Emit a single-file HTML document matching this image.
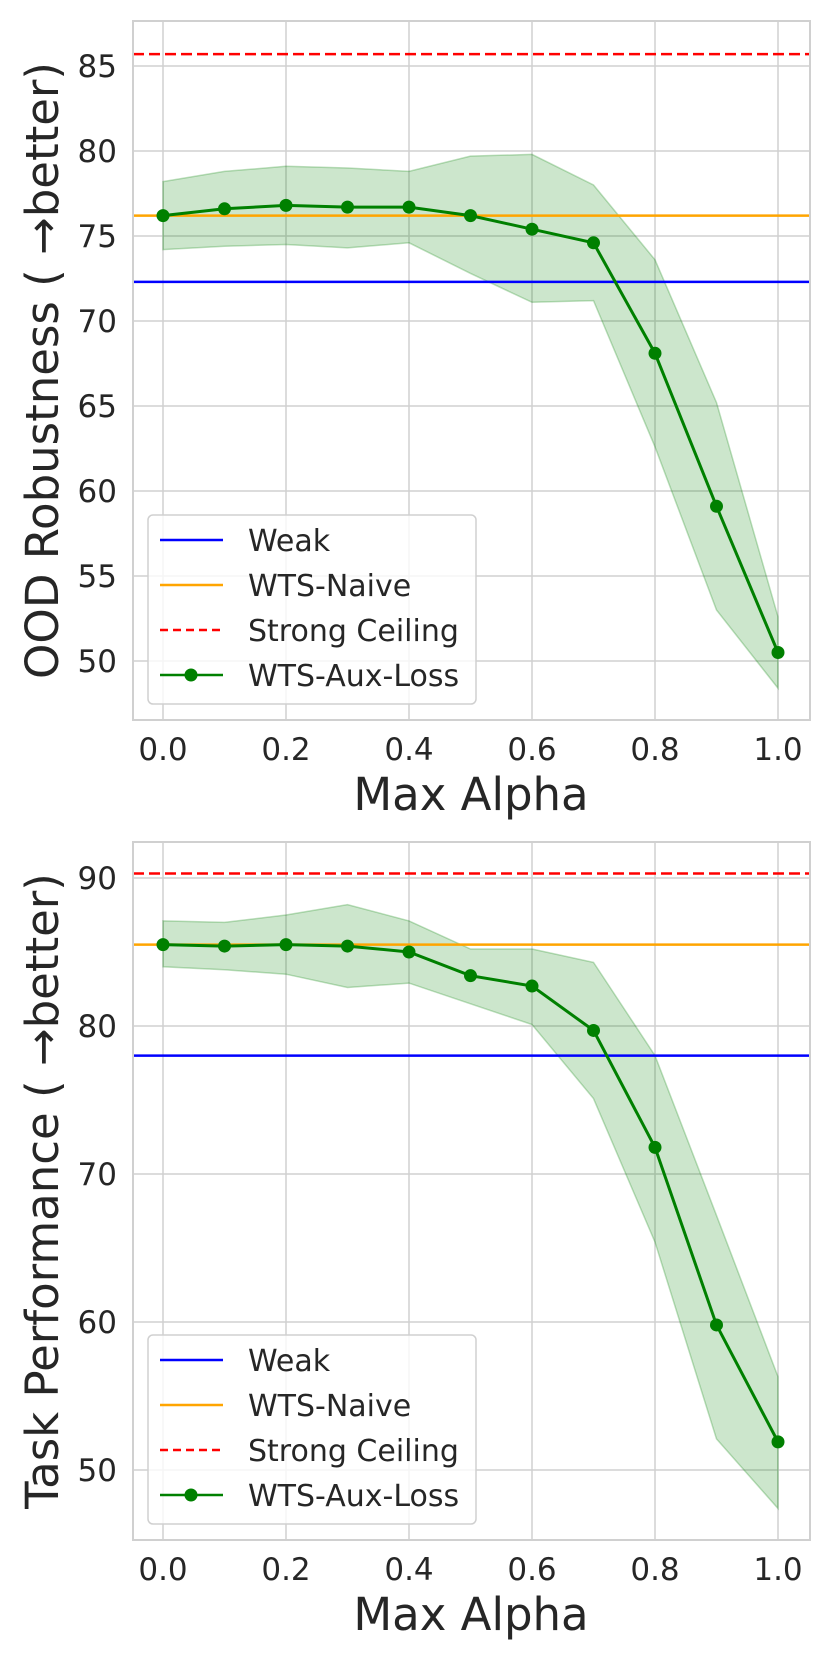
<!DOCTYPE html>
<html><head><meta charset="utf-8"><style>
body{margin:0;background:#fff}
svg text{font-family:"DejaVu Sans","Liberation Sans",sans-serif;fill:#262626}
</style></head><body>
<svg id="chart" width="830" height="1661" xmlns="http://www.w3.org/2000/svg"></svg>
<script>
const alphas=[0,0.1,0.2,0.3,0.4,0.5,0.6,0.7,0.8,0.9,1.0];
const xTicks=[0,0.2,0.4,0.6,0.8,1.0];
const oodMean=[76.2,76.6,76.8,76.7,76.7,76.2,75.4,74.6,68.1,59.1,50.5];
const oodUpper=[78.2,78.8,79.1,79.0,78.8,79.7,79.8,78.0,73.6,65.2,52.6];
const oodLower=[74.2,74.4,74.5,74.3,74.6,72.8,71.1,71.2,62.6,53.0,48.4];
const oodRefs=[72.3,76.2,85.7];
const oodTicks=[50,55,60,65,70,75,80,85];
const taskMean=[85.5,85.4,85.5,85.4,85.0,83.4,82.7,79.7,71.8,59.8,51.9];
const taskUpper=[87.1,87.0,87.5,88.2,87.1,85.2,85.2,84.3,78.0,67.2,56.3];
const taskLower=[84.0,83.8,83.5,82.6,82.9,81.5,80.1,75.1,65.4,52.1,47.4];
const taskRefs=[78.0,85.5,90.3];
const taskTicks=[50,60,70,80,90];
const legendLabels=["Weak","WTS-Naive","Strong Ceiling","WTS-Aux-Loss"];

const svg=document.getElementById('chart');
const NS="http://www.w3.org/2000/svg";
function mk(tag,attrs,parent){const e=document.createElementNS(NS,tag);for(const k in attrs)e.setAttribute(k,attrs[k]);(parent||svg).appendChild(e);return e;}

function panel(cfg){
  const g=mk('g',{});
  
  
  const L=133,R=810,T=cfg.top,B=cfg.bottom;
  const xs=v=>163+v*615;
  const ys=v=>cfg.y0px+(v-cfg.y0)*cfg.k;
  cfg.yTicks.forEach(t=>{
    const l=mk('line',{x1:L,x2:R,y1:ys(t),y2:ys(t),stroke:'#d0d0d0','stroke-width':1.5},g);
    
    
    const tx=mk('text',{x:117,y:ys(t)+11,'text-anchor':'end','font-size':31},g);
    tx.textContent=t;
    
    
  });
  xTicks.forEach(t=>{
    const l=mk('line',{x1:xs(t),x2:xs(t),y1:T,y2:B,stroke:'#d0d0d0','stroke-width':1.5},g);
    
    
    const tx=mk('text',{x:xs(t),y:B+40,'text-anchor':'middle','font-size':31},g);
    tx.textContent=t.toFixed(1);
    
    
  });
  let d='M'+alphas.map((a,i)=>xs(a)+','+ys(cfg.upper[i])).join('L');
  d+='L'+alphas.map((a,i)=>[xs(a),ys(cfg.lower[i])]).reverse().map(p=>p.join(',')).join('L')+'Z';
  const band=mk('path',{d:d,fill:'rgba(0,128,0,0.2)',stroke:'rgba(0,128,0,0.25)','stroke-width':1.5},g);
  
  
  const cols=['#0000ff','#ffa500','#ff0000'];
  const names=['weak-line','wts-naive-line','strong-ceiling-line'];
  cfg.refs.forEach((v,i)=>{
    const l=mk('line',{x1:L,x2:R,y1:ys(v),y2:ys(v),stroke:cols[i],'stroke-width':2.5},g);
    if(i===2)l.setAttribute('stroke-dasharray','11,5');
    
    
  });
  const pl=mk('polyline',{points:alphas.map((a,i)=>xs(a)+','+ys(cfg.mean[i])).join(' '),fill:'none',stroke:'#008000','stroke-width':3},g);
  
  
  alphas.forEach((a,i)=>{
    const c=mk('circle',{cx:xs(a),cy:ys(cfg.mean[i]),r:6.5,fill:'#008000'},g);
    
    
  });
  const fr=mk('rect',{x:L,y:T,width:R-L,height:B-T,fill:'none',stroke:'#d0d0d0','stroke-width':2},g);
  
  
  const xl=mk('text',{x:471,y:B+90,'text-anchor':'middle','font-size':45},g);
  xl.textContent='Max Alpha';
  
  
  const cy=(T+B)/2;
  const yl=mk('text',{x:58,y:cy,'text-anchor':'middle','font-size':45,transform:'rotate(-90 58 '+cy+')'},g);
  yl.textContent=cfg.ylabel;
  
  
  const lg=mk('g',{},g);
  
  
  mk('rect',{x:148,y:cfg.legTop,width:328,height:189,rx:5,fill:'rgba(255,255,255,0.8)',stroke:'#d0d0d0','stroke-width':1.5},lg);
  legendLabels.forEach((lab,i)=>{
    const y=cfg.legTop+25+i*45;
    const e=mk('g',{},lg);
    
    
    const col=i<3?cols[i]:'#008000';
    const l=mk('line',{x1:160,x2:223,y1:y,y2:y,stroke:col,'stroke-width':2.5},e);
    if(i===2)l.setAttribute('stroke-dasharray','8,5');
    if(i===3)mk('circle',{cx:191,cy:y,r:6.5,fill:'#008000'},e);
    const t=mk('text',{x:248,y:y+11,'font-size':30},e);
    t.textContent=lab;
  });
}
panel({name:'ood-robustness-panel',top:21,bottom:720,y0:85,y0px:66,k:-17,yTicks:oodTicks,mean:oodMean,upper:oodUpper,lower:oodLower,refs:oodRefs,ylabel:'OOD Robustness ( \u2192better)',legTop:515});
panel({name:'task-performance-panel',top:842,bottom:1540,y0:90,y0px:878,k:-14.8,yTicks:taskTicks,mean:taskMean,upper:taskUpper,lower:taskLower,refs:taskRefs,ylabel:'Task Performance ( \u2192better)',legTop:1335});
</script>
</body></html>
